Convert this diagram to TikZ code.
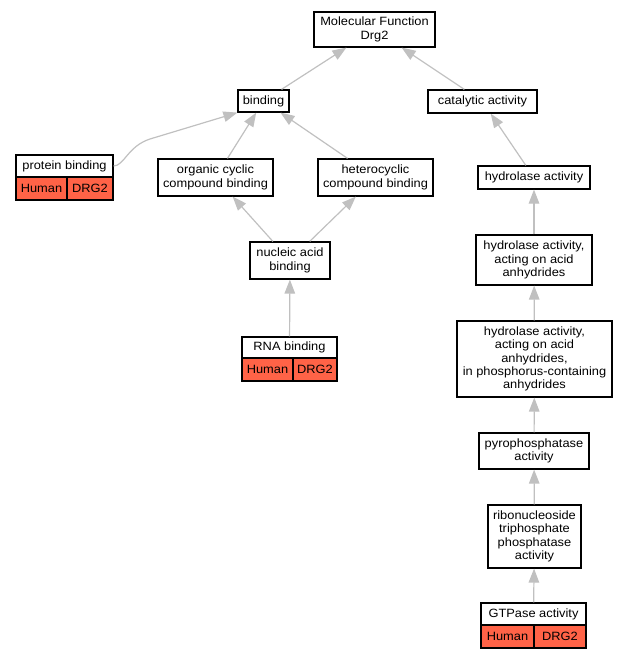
\documentclass[tikz,border=0pt]{standalone}
\usepackage{fontspec}
\setmainfont{Liberation Sans}[FakeStretch=1.07]
\usetikzlibrary{arrows.meta}
\definecolor{edgegray}{RGB}{192,192,192}
\definecolor{hum}{RGB}{255,99,71}
\begin{document}
\begin{tikzpicture}[x=1pt,y=-1pt,
  box/.style={draw=black, line width=1.2pt, inner sep=0pt, align=center,
    font=\fontsize{12}{13.4}\selectfont},
  cell/.style={box, fill=hum},
  edge/.style={draw=edgegray, line width=1.2pt, -{Triangle[length=14pt,width=10.5pt]}}]
\useasboundingbox (0,0) rectangle (628,659);
% nodes
\node[box, minimum width=121pt, minimum height=35pt] (mf) at (374.5,29.5) {Molecular Function\\Drg2};
\node[box, minimum width=51pt, minimum height=22pt] (binding) at (263.5,101) {binding};
\node[box, minimum width=109pt, minimum height=23pt] (cat) at (482.5,101.5) {catalytic activity};
\node[box, minimum width=97pt, minimum height=22pt] (pbh) at (64.5,166) {protein binding};
\node[cell, minimum width=51pt, minimum height=23pt] (pbhum) at (41.5,188.5) {Human};
\node[cell, minimum width=46pt, minimum height=23pt] (pbdrg) at (90,188.5) {DRG2};
\node[box, minimum width=115pt, minimum height=37pt] (org) at (215.5,177.5) {organic cyclic\\compound binding};
\node[box, minimum width=115pt, minimum height=37pt] (het) at (375.5,177.5) {heterocyclic\\compound binding};
\node[box, minimum width=112pt, minimum height=23pt] (hyd) at (534,177.5) {hydrolase activity};
\node[box, minimum width=80pt, minimum height=37pt] (nuc) at (290,260.5) {nucleic acid\\binding};
\node[box, minimum width=116pt, minimum height=50pt] (hydacid) at (534,260) {hydrolase activity,\\acting on acid\\anhydrides};
\node[box, minimum width=95pt, minimum height=21pt] (rnah) at (289.5,347.5) {RNA binding};
\node[cell, minimum width=51pt, minimum height=23pt] (rnahum) at (267.5,369.5) {Human};
\node[cell, minimum width=44pt, minimum height=23pt] (rnadrg) at (315,369.5) {DRG2};
\node[box, minimum width=155pt, minimum height=76pt] (hydphos) at (534.5,359) {hydrolase activity,\\acting on acid\\anhydrides,\\in phosphorus-containing\\anhydrides};
\node[box, minimum width=110pt, minimum height=36pt] (pyro) at (534,451) {pyrophosphatase\\activity};
\node[box, minimum width=93pt, minimum height=63pt] (ribo) at (534.5,536.5) {ribonucleoside\\triphosphate\\phosphatase\\activity};
\node[box, minimum width=105pt, minimum height=22pt] (gtph) at (533.5,614) {GTPase activity};
\node[cell, minimum width=53pt, minimum height=23pt] (gtphum) at (507.5,636.5) {Human};
\node[cell, minimum width=52pt, minimum height=23pt] (gtpdrg) at (560,636.5) {DRG2};
% edges
\draw[edge] (binding) -- (mf);
\draw[edge] (cat) -- (mf);
\coordinate (pbk) at (150,139);
\draw[edge] (pbh.east) .. controls (124,166) and (128,146) .. (pbk) -- (binding.south west);
\draw[edge] (org) -- (binding);
\draw[edge] (het) -- (binding);
\draw[edge] (nuc) -- (org);
\draw[edge] (nuc) -- (het);
\draw[edge] (rnah) -- (nuc);
\draw[edge] (hyd) -- (cat);
\draw[edge] (hydacid) -- (hyd);
\draw[edge] (hydphos) -- (hydacid);
\draw[edge] (pyro) -- (hydphos);
\draw[edge] (ribo) -- (pyro);
\draw[edge] (gtph) -- (ribo);
\end{tikzpicture}
\end{document}
